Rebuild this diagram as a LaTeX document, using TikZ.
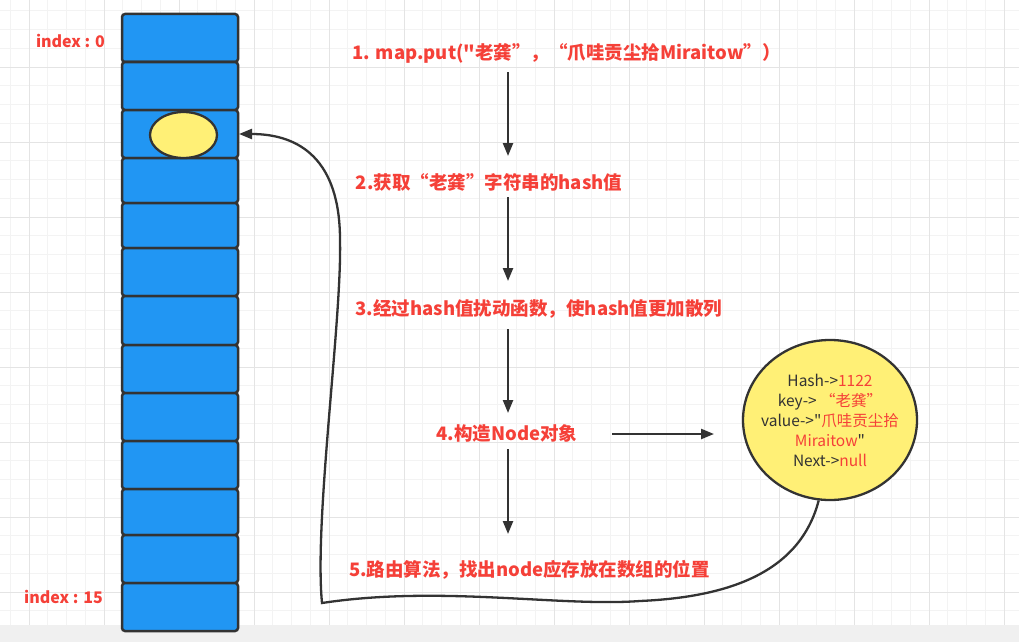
\documentclass[tikz,border=0pt]{standalone}
\usepackage{fontspec}
\newfontfamily\cjk{Noto Sans CJK SC}
\usetikzlibrary{arrows.meta,shapes.geometric}
\definecolor{redt}{RGB}{245,64,56}
\definecolor{bluec}{RGB}{33,150,243}
\definecolor{yel}{RGB}{255,240,118}
\definecolor{dk}{RGB}{51,51,51}
\definecolor{gmin}{RGB}{243,243,243}
\definecolor{gmaj}{RGB}{228,228,228}
\definecolor{band}{RGB}{240,240,240}
\begin{document}
\begin{tikzpicture}[x=1pt,y=-1pt,
  cell/.style={draw=dk,line width=2.5pt,fill=bluec,rounded corners=3pt,minimum width=116pt,inner sep=0pt,outer sep=0pt},
  steptxt/.style={text=redt,font=\cjk\bfseries\fontsize{18.5}{22}\selectfont,inner sep=0pt},
  idx/.style={text=redt,font=\cjk\bfseries\fontsize{16}{19}\selectfont,inner sep=0pt},
  tip/.style={-{Triangle[length=13pt,width=10pt]}},
  flow/.style={draw=dk,line width=2.3pt,tip},
  minorg/.style={draw=gmin,line width=1pt},
  majorg/.style={draw=gmaj,line width=1pt}
]
\useasboundingbox (0,0) rectangle (1019,642);
\fill[white] (0,0) rectangle (1019,642);
% grid
\foreach \i in {0,...,54} {\draw[minorg] ({10.25+\i*18.75},0) -- ({10.25+\i*18.75},625);}
\foreach \j in {0,...,32} {\draw[minorg] (0,{10.75+\j*18.75}) -- (1019,{10.75+\j*18.75});}
\foreach \i in {0,...,13} {\draw[majorg] ({29+\i*75},0) -- ({29+\i*75},625);}
\foreach \j in {0,...,7} {\draw[majorg] (0,{67+\j*75}) -- (1019,{67+\j*75});}
\fill[band] (0,625) rectangle (1019,642);
% array cells
\foreach \t/\b [count=\i from 0] in {14/62,62/110,110/158,158/203,203/248,248/296,296/345,345/393,393/441,441/489,489/535,535/583,583/631}
  {\node[cell,minimum height={(\b-\t)*1pt}] (c\i) at (180,{(\t+\b)/2}) {};}
\node[ellipse,draw=dk,line width=2.3pt,fill=yel,minimum width=67pt,minimum height=46pt,inner sep=0pt] (e0) at (183.5,135) {};
% index labels
\node[idx] (i0) at (70.5,41) {index : 0};
\node[idx] (i15) at (63.5,597) {index : 15};
% step texts
\node[steptxt] (s1) at (566.5,53) {1. map.put("老龚”，“爪哇贡尘拾Miraitow”）};
\node[steptxt] (s2) at (489,182) {2.获取“老龚”字符串的hash值};
\node[steptxt] (s3) at (539,309) {3.经过hash值扰动函数，使hash值更加散列};
\node[steptxt] (s4) at (507,433) {4.构造Node对象};
\node[steptxt] (s5) at (529.5,570) {5.路由算法，找出node应存放在数组的位置};
% node ellipse
\node[ellipse,draw=dk,line width=2.3pt,fill=yel,minimum width=174pt,minimum height=160pt,inner xsep=-16pt,inner ysep=-12pt,align=center,text=dk,font=\cjk\fontsize{15.5}{20}\selectfont] (nd) at (830,420)
  {Hash->\textcolor{redt}{1122}\\key-> \textcolor{redt}{“老龚”}\\value->"\textcolor{redt}{爪哇贡尘拾}\\\textcolor{redt}{Miraitow}"\\Next->\textcolor{redt}{null}};
% arrow coordinates
\coordinate (a1) at (508,72);  \coordinate (b1) at (508,156);
\coordinate (a2) at (508,197); \coordinate (b2) at (508,281);
\coordinate (a3) at (508,329); \coordinate (b3) at (508,413);
\coordinate (a4) at (508,449); \coordinate (b4) at (508,534);
\coordinate (a5) at (612,434); \coordinate (b5) at (714,434);
\draw[flow] (a1) -- (b1);
\draw[flow] (a2) -- (b2);
\draw[flow] (a3) -- (b3);
\draw[flow] (a4) -- (b4);
\draw[flow] (a5) -- (b5);
% routing curve back to the array
\draw[flow] (nd.262) .. controls (800,572) and (730,597) .. (640,601)
  .. controls (560,607) and (440,585) .. (322,603)
  .. controls (314,520) and (342,320) .. (340,240)
  .. controls (340,160) and (300,134) .. ([xshift=1pt]c2.east);
\end{tikzpicture}
\end{document}
